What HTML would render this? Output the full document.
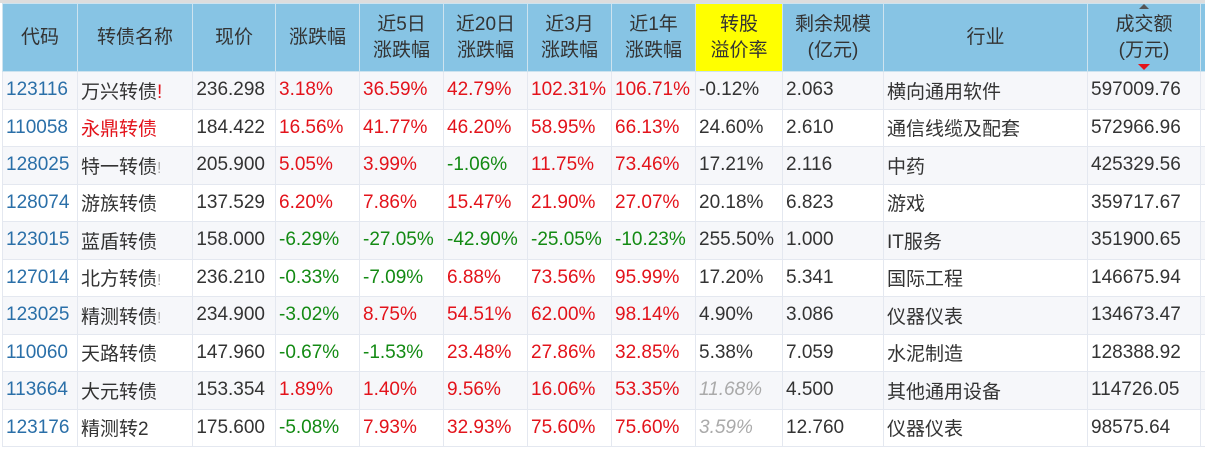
<!DOCTYPE html>
<html><head><meta charset="utf-8"><style>
body{margin:0;width:1205px;height:449px;overflow:hidden;background:#fff;font-family:"Liberation Sans","Noto Sans CJK SC",sans-serif;font-size:19px;color:#333;position:relative}
.top{position:absolute;left:0;top:0;width:1205px;height:3px;background:#ddd}
table{position:absolute;left:2px;top:3px;border-collapse:collapse;table-layout:fixed;width:1218px}
td,th{border:1px solid #e4e8f0;padding:0 0 0 3px;white-space:nowrap;overflow:hidden}
th{background:#87c4e4;font-weight:normal;text-align:center;height:67px;line-height:26px;border-color:#cde3ef;padding:0;color:#333}
td{height:36.5px}
tbody tr:nth-child(odd){background:#f6f7fa}
.c{color:#2a6fa8}.r{color:#e3131b}.g{color:#138a13}.gi{color:#aaa;font-style:italic}
.p{text-align:right;padding-right:10px}
.y{background:#ffff00!important}
.ex{color:#aaa;font-size:16px}
</style></head><body><div class="top"></div>
<table>
<colgroup><col style="width:75px"><col style="width:115px"><col style="width:83px"><col style="width:84px"><col style="width:84px"><col style="width:84px"><col style="width:84px"><col style="width:84px"><col style="width:87px"><col style="width:101px"><col style="width:204px"><col style="width:113px"><col style="width:20px"></colgroup>
<thead><tr><th>代码</th><th>转债名称</th><th>现价</th><th>涨跌幅</th><th>近5日<br>涨跌幅</th><th>近20日<br>涨跌幅</th><th>近3月<br>涨跌幅</th><th>近1年<br>涨跌幅</th><th class="y">转股<br>溢价率</th><th>剩余规模<br>(亿元)</th><th>行业</th><th style="position:relative">成交额<br>(万元)<span style="position:absolute;left:50%;margin-left:-5px;top:0;border:5px solid transparent;border-bottom-color:#555;border-top:0"></span><span style="position:absolute;left:50%;margin-left:-6px;bottom:1px;border:6px solid transparent;border-top-color:#e3131b;border-bottom:0"></span></th><th></th></tr></thead>
<tbody>
<tr><td class="c">123116</td><td>万兴转债<span class="r">!</span></td><td class="p">236.298</td><td class="r">3.18%</td><td class="r">36.59%</td><td class="r">42.79%</td><td class="r">102.31%</td><td class="r">106.71%</td><td>-0.12%</td><td>2.063</td><td>横向通用软件</td><td>597009.76</td><td></td></tr>
<tr><td class="c">110058</td><td class="r">永鼎转债</td><td class="p">184.422</td><td class="r">16.56%</td><td class="r">41.77%</td><td class="r">46.20%</td><td class="r">58.95%</td><td class="r">66.13%</td><td>24.60%</td><td>2.610</td><td>通信线缆及配套</td><td>572966.96</td><td></td></tr>
<tr><td class="c">128025</td><td>特一转债<span class="ex">!</span></td><td class="p">205.900</td><td class="r">5.05%</td><td class="r">3.99%</td><td class="g">-1.06%</td><td class="r">11.75%</td><td class="r">73.46%</td><td>17.21%</td><td>2.116</td><td>中药</td><td>425329.56</td><td></td></tr>
<tr><td class="c">128074</td><td>游族转债</td><td class="p">137.529</td><td class="r">6.20%</td><td class="r">7.86%</td><td class="r">15.47%</td><td class="r">21.90%</td><td class="r">27.07%</td><td>20.18%</td><td>6.823</td><td>游戏</td><td>359717.67</td><td></td></tr>
<tr><td class="c">123015</td><td>蓝盾转债</td><td class="p">158.000</td><td class="g">-6.29%</td><td class="g">-27.05%</td><td class="g">-42.90%</td><td class="g">-25.05%</td><td class="g">-10.23%</td><td>255.50%</td><td>1.000</td><td>IT服务</td><td>351900.65</td><td></td></tr>
<tr><td class="c">127014</td><td>北方转债<span class="ex">!</span></td><td class="p">236.210</td><td class="g">-0.33%</td><td class="g">-7.09%</td><td class="r">6.88%</td><td class="r">73.56%</td><td class="r">95.99%</td><td>17.20%</td><td>5.341</td><td>国际工程</td><td>146675.94</td><td></td></tr>
<tr><td class="c">123025</td><td>精测转债<span class="ex">!</span></td><td class="p">234.900</td><td class="g">-3.02%</td><td class="r">8.75%</td><td class="r">54.51%</td><td class="r">62.00%</td><td class="r">98.14%</td><td>4.90%</td><td>3.086</td><td>仪器仪表</td><td>134673.47</td><td></td></tr>
<tr><td class="c">110060</td><td>天路转债</td><td class="p">147.960</td><td class="g">-0.67%</td><td class="g">-1.53%</td><td class="r">23.48%</td><td class="r">27.86%</td><td class="r">32.85%</td><td>5.38%</td><td>7.059</td><td>水泥制造</td><td>128388.92</td><td></td></tr>
<tr><td class="c">113664</td><td>大元转债</td><td class="p">153.354</td><td class="r">1.89%</td><td class="r">1.40%</td><td class="r">9.56%</td><td class="r">16.06%</td><td class="r">53.35%</td><td class="gi">11.68%</td><td>4.500</td><td>其他通用设备</td><td>114726.05</td><td></td></tr>
<tr><td class="c">123176</td><td>精测转2</td><td class="p">175.600</td><td class="g">-5.08%</td><td class="r">7.93%</td><td class="r">32.93%</td><td class="r">75.60%</td><td class="r">75.60%</td><td class="gi">3.59%</td><td>12.760</td><td>仪器仪表</td><td>98575.64</td><td></td></tr>
</tbody></table>
</body></html>
